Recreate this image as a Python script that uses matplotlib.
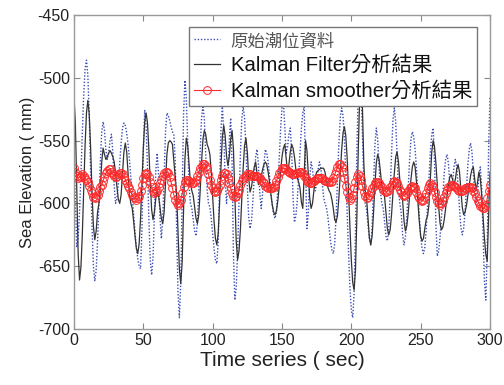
import numpy as np
import matplotlib
matplotlib.use("Agg")
import matplotlib.pyplot as plt

plt.rcParams['font.family'] = ['Liberation Sans', 'Noto Sans CJK TC', 'DejaVu Sans']
plt.rcParams['axes.unicode_minus'] = False

# Raw tide data, one value per second (0..300)
raw_v = [-560, -598, -635, -628, -607, -577, -544, -514, -493, -486,
         -498, -530, -574, -618, -650, -662, -653, -630, -598, -567,
         -543, -535, -542, -557, -565, -560, -550, -545, -559, -586,
         -600, -596, -584, -568, -552, -540, -536, -538, -544, -553,
         -565, -579, -594, -609, -623, -635, -644, -650, -652, -620,
         -558, -526, -538, -571, -612, -645, -657, -643, -608, -574,
         -560, -577, -611, -628, -613, -578, -543, -528, -530, -534,
         -539, -543, -545, -566, -618, -670, -691, -663, -596, -530,
         -502, -516, -551, -586, -600, -604, -613, -622, -626, -616,
         -590, -558, -532, -522, -533, -561, -589, -600, -603, -612,
         -624, -636, -645, -648, -630, -586, -541, -523, -542, -581,
         -600, -583, -549, -532, -568, -641, -677, -667, -638, -600,
         -561, -533, -523, -532, -556, -587, -611, -620, -614, -598,
         -579, -563, -557, -569, -592, -604, -592, -569, -557, -560,
         -567, -578, -591, -602, -609, -612, -606, -588, -565, -541,
         -524, -518, -539, -560, -555, -545, -540, -559, -596, -615,
         -610, -598, -579, -559, -540, -528, -523, -571, -620, -607,
         -580, -567, -573, -584, -590, -584, -573, -567, -572, -583,
         -595, -600, -603, -610, -620, -630, -637, -640, -632, -611,
         -582, -553, -532, -524, -530, -548, -576, -608, -639, -667,
         -685, -691, -672, -622, -559, -509, -490, -506, -545, -584,
         -600, -605, -617, -628, -633, -619, -587, -554, -540, -549,
         -570, -591, -600, -604, -615, -626, -630, -620, -593, -561,
         -534, -524, -535, -562, -589, -600, -608, -625, -633, -627,
         -611, -588, -566, -549, -543, -547, -557, -573, -592, -610,
         -626, -636, -640, -635, -621, -601, -579, -559, -545, -540,
         -566, -617, -642, -638, -627, -611, -593, -576, -565, -561,
         -568, -583, -590, -584, -571, -565, -571, -586, -604, -619,
         -625, -620, -607, -589, -570, -557, -552, -559, -576, -593,
         -600, -593, -578, -571, -587, -624, -662, -677, -637, -556,
         -516]

# Kalman filter result, one value per second (0..300)
kf_v = [-515, -536, -588, -640, -661, -651, -625, -590, -554, -528,
        -518, -529, -556, -591, -618, -629, -622, -607, -600, -589,
        -567, -556, -561, -565, -563, -560, -558, -560, -563, -567,
        -576, -587, -597, -600, -593, -576, -559, -552, -559, -576,
        -593, -600, -604, -614, -626, -636, -640, -632, -612, -584,
        -556, -535, -528, -536, -557, -584, -605, -613, -607, -596,
        -590, -594, -603, -612, -616, -607, -584, -561, -552, -550,
        -551, -553, -566, -580, -592, -622, -652, -664, -647, -606,
        -565, -548, -554, -569, -584, -590, -594, -603, -612, -616,
        -609, -590, -567, -549, -542, -545, -553, -556, -561, -575,
        -594, -614, -628, -633, -624, -600, -571, -547, -538, -546,
        -562, -570, -563, -549, -542, -557, -594, -630, -645, -638,
        -621, -596, -572, -554, -548, -559, -580, -591, -587, -579,
        -571, -567, -576, -585, -583, -579, -573, -569, -567, -569,
        -575, -583, -593, -601, -607, -609, -606, -598, -587, -575,
        -563, -556, -553, -564, -575, -569, -559, -553, -556, -563,
        -573, -580, -583, -588, -599, -604, -577, -550, -558, -577,
        -596, -604, -600, -590, -579, -575, -574, -573, -572, -572,
        -572, -575, -581, -587, -590, -592, -597, -604, -613, -615,
        -610, -596, -577, -558, -544, -539, -546, -564, -590, -619,
        -645, -663, -669, -653, -611, -558, -516, -500, -523, -568,
        -590, -596, -611, -627, -633, -626, -608, -586, -568, -561,
        -565, -575, -586, -590, -595, -608, -620, -625, -621, -609,
        -592, -576, -563, -559, -567, -582, -590, -598, -614, -622,
        -618, -608, -595, -581, -571, -567, -571, -583, -599, -614,
        -626, -630, -628, -620, -613, -610, -601, -580, -559, -550,
        -555, -568, -586, -603, -616, -621, -619, -613, -604, -594,
        -585, -579, -577, -581, -585, -581, -573, -569, -575, -589,
        -603, -609, -607, -602, -594, -586, -578, -573, -571, -581,
        -590, -583, -575, -580, -593, -611, -628, -641, -646, -611,
        -575]

# Kalman smoother result, one value per second (0..300)
ks_v = [-572, -575, -578, -580, -579, -578, -577, -578, -580, -581,
        -583, -586, -589, -592, -595, -596, -595, -593, -590, -587,
        -585, -582, -579, -576, -574, -573, -573, -575, -577, -578,
        -579, -578, -577, -576, -576, -577, -579, -581, -584, -586,
        -588, -591, -593, -595, -596, -597, -596, -594, -590, -585,
        -580, -577, -576, -577, -579, -583, -587, -590, -592, -591,
        -590, -587, -584, -581, -578, -576, -575, -575, -576, -579,
        -583, -588, -593, -597, -600, -601, -600, -597, -592, -587,
        -583, -581, -581, -582, -583, -584, -584, -583, -581, -578,
        -575, -572, -570, -569, -569, -570, -573, -577, -581, -585,
        -588, -590, -591, -590, -588, -585, -581, -578, -576, -576,
        -577, -580, -584, -588, -592, -594, -595, -594, -592, -589,
        -585, -582, -580, -579, -578, -577, -577, -577, -578, -578,
        -578, -578, -578, -579, -580, -581, -583, -584, -586, -587,
        -588, -588, -588, -588, -587, -585, -582, -579, -576, -574,
        -572, -572, -572, -573, -574, -575, -576, -577, -577, -577,
        -576, -576, -575, -575, -575, -576, -578, -580, -582, -583,
        -584, -584, -583, -582, -581, -580, -580, -580, -580, -580,
        -581, -582, -582, -583, -583, -583, -582, -580, -577, -574,
        -571, -569, -569, -571, -575, -580, -586, -591, -595, -597,
        -596, -593, -588, -583, -579, -577, -578, -581, -586, -591,
        -594, -596, -595, -593, -591, -588, -586, -584, -583, -583,
        -584, -585, -587, -589, -590, -591, -590, -589, -587, -585,
        -583, -582, -583, -584, -586, -589, -591, -593, -594, -593,
        -592, -590, -588, -587, -586, -587, -588, -591, -594, -596,
        -597, -598, -597, -595, -592, -588, -585, -584, -585, -587,
        -591, -595, -598, -600, -601, -600, -598, -595, -592, -589,
        -587, -586, -585, -585, -586, -587, -588, -589, -590, -590,
        -590, -589, -588, -588, -587, -587, -587, -588, -590, -592,
        -595, -598, -600, -602, -603, -604, -604, -601, -596, -590,
        -585]

x_ticks = [0, 50, 100, 150, 200, 250, 300]
y_ticks = [-700, -650, -600, -550, -500, -450]
labels = ['原始潮位資料', 'Kalman Filter分析結果', 'Kalman smoother分析結果']

fig = plt.figure(figsize=(5.04, 3.85), dpi=100)
ax = fig.add_axes([0.1468, 0.1455, 0.8254, 0.8156])

ax.plot(np.arange(len(raw_v)), raw_v, color='#3a4db3', lw=1.0, linestyle=(0, (1, 1.3)),
        label=labels[0])
ax.plot(np.arange(len(kf_v)), kf_v, color='#333333', lw=0.9, label=labels[1])
ax.plot(np.arange(len(ks_v)), ks_v, color='#ff2a2a', lw=0.8, marker='o', ms=5.6, mfc='none',
        mec='#ff2a2a', mew=0.7, label=labels[2])

ax.set_xlim(0, 300)
ax.set_ylim(-700, -450)
ax.set_xticks(x_ticks)
ax.set_yticks(y_ticks)
ax.tick_params(direction='in', length=4, width=0.8, color='#888888', top=True, right=True,
               labelsize=11.5, labelcolor='#222222', pad=3)
for s in ax.spines.values():
    s.set_color('#999999')
    s.set_linewidth(1.0)

ax.set_xlabel('Time series ( sec)', fontsize=15, color='#222222', labelpad=2)
ax.set_ylabel('Sea Elevation ( mm)', fontsize=12, color='#222222', labelpad=2)

leg = ax.legend(loc='upper right', bbox_to_anchor=(0.969, 0.962), borderaxespad=0,
                fontsize=14.7, frameon=True, fancybox=False, framealpha=1,
                edgecolor='#777777', handlelength=1.3, handletextpad=0.5,
                labelspacing=0.3, borderpad=0.25)
leg.get_frame().set_linewidth(1.0)
leg.get_texts()[0].set_fontsize(12.5)
leg.get_texts()[0].set_color('#555555')
for t in leg.get_texts()[1:]:
    t.set_color('#111111')

fig.savefig('out.png', dpi=100)
